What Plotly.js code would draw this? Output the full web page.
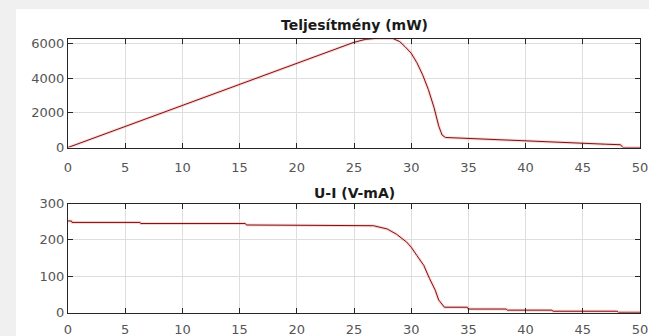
<!DOCTYPE html>
<html>
<head>
<meta charset="utf-8">
<script src="https://cdn.plot.ly/plotly-3.0.1.min.js"></script>
<style>html,body{margin:0;padding:0;background:#f0f0f0;}#chart{width:649px;height:336px;}</style>
</head>
<body>
<div id="chart"></div>
<script>
// Power curve (mW) vs x
const powerX = [0, 5, 10, 15, 20, 24, 25, 26, 26.8, 28.4, 29.0, 29.5, 30, 30.5, 31, 31.5, 32, 32.4, 32.7, 33, 35, 37, 40, 42, 45, 47, 48.3, 48.5, 50];
const powerY = [0, 1220, 2430, 3640, 4860, 5840, 6080, 6250, 6300, 6300, 6120, 5800, 5450, 4900, 4200, 3350, 2300, 1250, 720, 580, 520, 460, 360, 310, 230, 190, 160, 0, 0];
// U-I curve (mA) vs x
const uiX = [0, 0.3, 0.35, 6.3, 6.35, 15.5, 15.6, 25.5, 26.7, 27.9, 28.7, 29.6, 30, 30.5, 31.1, 31.6, 32.1, 32.4, 32.9, 34.9, 35, 38.3, 38.4, 42.3, 42.4, 48, 48.1, 50];
const uiY = [252, 252, 248, 248, 245, 245, 241, 241, 239, 230, 216, 194, 180, 157, 130, 94, 62, 35, 15, 15, 10, 10, 7, 7, 4, 4, 1, 1];
const titles = ["Teljesítmény (mW)", "U-I (V-mA)"];
const xTicks = [0, 5, 10, 15, 20, 25, 30, 35, 40, 45, 50];
const yTicksTop = [0, 2000, 4000, 6000];
const yTicksBottom = [0, 100, 200, 300];

const W = 649, H = 336;
const px = v => v / W;
const py = v => 1 - v / H;

const lineColor = '#7e1212';
const haloColor = 'rgba(240,120,120,0.3)';

const traces = [
  {x: powerX, y: powerY, xaxis: 'x', yaxis: 'y', mode: 'lines', line: {color: haloColor, width: 3}, hoverinfo: 'skip'},
  {x: powerX, y: powerY, xaxis: 'x', yaxis: 'y', mode: 'lines', line: {color: lineColor, width: 1}},
  {x: uiX, y: uiY, xaxis: 'x2', yaxis: 'y2', mode: 'lines', line: {color: haloColor, width: 3}, hoverinfo: 'skip'},
  {x: uiX, y: uiY, xaxis: 'x2', yaxis: 'y2', mode: 'lines', line: {color: lineColor, width: 1}}
];

const tickFont = {family: 'DejaVu Sans, sans-serif', size: 13, color: '#555555'};
function xAxis(anchor, standoff) {
  return {
    domain: [px(68), px(640)], anchor: anchor, range: [0, 50],
    tickvals: xTicks, ticktext: xTicks.map(String),
    showline: true, linecolor: '#262626', linewidth: 1, mirror: 'ticks',
    ticks: 'inside', ticklen: 5, tickcolor: '#262626', tickwidth: 1,
    showgrid: true, gridcolor: '#dedede', gridwidth: 1, zeroline: false,
    tickfont: tickFont, ticklabelstandoff: standoff, fixedrange: true
  };
}
function yAxis(anchor, domain, range, ticks) {
  return {
    domain: domain, anchor: anchor, range: range,
    tickvals: ticks, ticktext: ticks.map(String),
    showline: true, linecolor: '#262626', linewidth: 1, mirror: 'ticks',
    ticks: 'inside', ticklen: 5, tickcolor: '#262626', tickwidth: 1,
    showgrid: true, gridcolor: '#dedede', gridwidth: 1, zeroline: false,
    tickfont: tickFont, fixedrange: true
  };
}

const layout = {
  width: W, height: H,
  margin: {l: 0, r: 0, t: 0, b: 0},
  paper_bgcolor: '#f0f0f0', plot_bgcolor: '#ffffff',
  showlegend: false,
  xaxis: xAxis('y', 8),
  yaxis: yAxis('x', [py(147.5), py(38.5)], [0, 6300], yTicksTop),
  xaxis2: xAxis('y2', 5),
  yaxis2: yAxis('x2', [py(312.7), py(203.5)], [0, 300], yTicksBottom),
  shapes: [
    {type: 'rect', xref: 'paper', yref: 'paper', x0: px(16), x1: 1, y0: 0, y1: py(9), fillcolor: '#ffffff', line: {width: 0}, layer: 'below'}
  ],
  annotations: [
    {text: '<b>' + titles[0] + '</b>', xref: 'paper', yref: 'paper', x: px(354), y: py(25), xanchor: 'center', yanchor: 'middle', showarrow: false, font: {family: 'DejaVu Sans, sans-serif', size: 14, color: '#1a1a1a'}},
    {text: '<b>' + titles[1] + '</b>', xref: 'paper', yref: 'paper', x: px(354), y: py(193), xanchor: 'center', yanchor: 'middle', showarrow: false, font: {family: 'DejaVu Sans, sans-serif', size: 14, color: '#1a1a1a'}}
  ]
};

Plotly.newPlot('chart', traces, layout, {staticPlot: true, displayModeBar: false});
</script>
</body>
</html>
